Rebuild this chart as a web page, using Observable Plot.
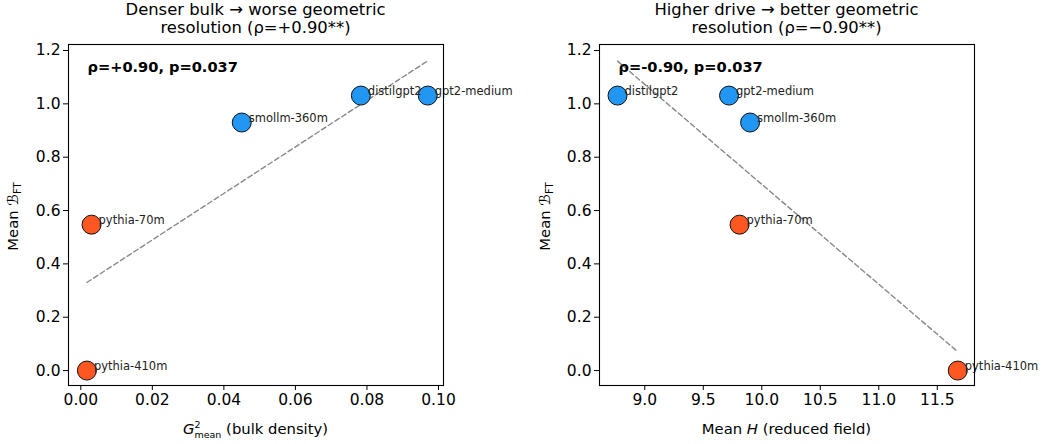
<!DOCTYPE html>
<html>
<head>
<meta charset="utf-8">
<script src="https://cdn.jsdelivr.net/npm/d3@7"></script>
<script src="https://cdn.jsdelivr.net/npm/@observablehq/plot@0.6"></script>
<style>
  html, body { margin: 0; padding: 0; background: #fff; }
  #root { position: relative; width: 1048px; height: 444px; font-family: "DejaVu Sans", sans-serif; overflow: hidden; }
  .title { position: absolute; top: 1px; text-align: center; font-size: 16.4px; line-height: 18px; color: #000; white-space: nowrap; transform: translateX(-50%); }
  .panel { position: absolute; top: 38px; }
</style>
</head>
<body>
<div id="root"></div>
<script>
// ---- data ----
const models = ["pythia-410m", "pythia-70m", "smollm-360m", "distilgpt2", "gpt2-medium"];
const family = ["pythia", "pythia", "other", "other", "other"];
const bulkDensity = [0.0017, 0.0030, 0.0450, 0.0783, 0.0970];
const reducedField = [11.675, 9.81, 9.90, 8.767, 9.72];
const meanBFT = [0.0, 0.547, 0.930, 1.031, 1.031];
const xTicksLeft = [0, 0.02, 0.04, 0.06, 0.08, 0.10];
const xTicksRight = [9.0, 9.5, 10.0, 10.5, 11.0, 11.5];
const yTicks = [0, 0.2, 0.4, 0.6, 0.8, 1.0, 1.2];
const titles = [["Denser bulk \u2192 worse geometric", "resolution (\u03c1=+0.90**)"],
                ["Higher drive \u2192 better geometric", "resolution (\u03c1=\u22120.90**)"]];
const statText = ["\u03c1=+0.90, p=0.037", "\u03c1=-0.90, p=0.037"];

const colorOf = {pythia: "#FF5722", other: "#2196F3"};
const rows = models.map((m, i) => ({model: m, fam: family[i], g2: bulkDensity[i], h: reducedField[i], b: meanBFT[i]}));

const root = document.getElementById("root");
const W = 524, H = 406, MT = 6, MB = 59;
const FONT = "DejaVu Sans, sans-serif";

function makePanel(cfg) {
  const plot = Plot.plot({
    width: W, height: H,
    marginLeft: cfg.ml, marginRight: cfg.mr, marginTop: MT, marginBottom: MB,
    style: {fontFamily: FONT, fontSize: "15.5px", color: "#000", background: "#fff", overflow: "visible"},
    x: {domain: cfg.xdomain, ticks: cfg.xticks, tickFormat: cfg.xfmt, label: null, tickSize: 5, tickPadding: 3},
    y: {domain: [-0.056, 1.2225], ticks: yTicks, tickFormat: d3.format(".1f"), label: null, tickSize: 5, tickPadding: 3},
    marks: [
      Plot.linearRegressionY(rows, {x: cfg.xkey, y: "b", ci: 0, stroke: "#888", strokeWidth: 1.4, strokeDasharray: "5,3"}),
      Plot.dot(rows, {x: cfg.xkey, y: "b", r: 9.5, fill: d => colorOf[d.fam], stroke: "#111", strokeWidth: 1}),
      Plot.text(rows, {x: cfg.xkey, y: "b", text: "model", dx: 7, dy: -4, textAnchor: "start", fontSize: 11.5, fill: "#222"}),
      Plot.text([cfg.stat], {frameAnchor: "top-left", dx: 19, dy: 17, text: d => d, fontWeight: "bold", fontSize: 14.6, fill: "#000"}),
      Plot.frame({stroke: "#000", strokeWidth: 1.1})
    ]
  });
  plot.classList.add("panel");
  plot.style.left = cfg.left + "px";
  root.appendChild(plot);

  const svg = d3.select(plot);
  const frameL = cfg.ml, frameR = W - cfg.mr;
  const cx = (frameL + frameR) / 2;
  // x-axis label
  cfg.xlabel(svg.append("text")
    .attr("x", cx).attr("y", 396).attr("text-anchor", "middle")
    .attr("font-family", FONT).attr("font-size", 14.8).attr("fill", "#000"));
  // y-axis label
  const yl = svg.append("text")
    .attr("transform", `translate(${cfg.ylx},${(MT + H - MB) / 2 + 2}) rotate(-90)`)
    .attr("text-anchor", "middle").attr("font-family", FONT).attr("font-size", 14.8).attr("fill", "#000");
  yl.append("tspan").text("Mean ");
  yl.append("tspan").attr("font-style", "italic").text("\u212C");
  yl.append("tspan").attr("font-size", 10).attr("dy", 3).text("FT");

  // title (HTML above the svg)
  const t = document.createElement("div");
  t.className = "title";
  t.style.left = (cfg.left + cx) + "px";
  t.innerHTML = cfg.title.join("<br>");
  root.appendChild(t);
}

makePanel({
  left: 0, ml: 68, mr: 81, xkey: "g2",
  xdomain: [-0.00344, 0.1014], xticks: xTicksLeft, xfmt: d3.format(".2f"),
  stat: statText[0], title: titles[0], ylx: 18,
  xlabel: (el) => {
    el.append("tspan").attr("font-style", "italic").text("G");
    el.append("tspan").attr("font-size", 9.5).attr("dy", -6).text("2");
    el.append("tspan").attr("font-size", 9.5).attr("dx", -6).attr("dy", 10).text("mean");
    el.append("tspan").attr("dy", -4).text(" (bulk density)");
  }
});

makePanel({
  left: 524, ml: 75, mr: 74, xkey: "h",
  xdomain: [8.613, 11.818], xticks: xTicksRight, xfmt: d3.format(".1f"),
  stat: statText[1], title: titles[1], ylx: 26,
  xlabel: (el) => {
    el.append("tspan").text("Mean ");
    el.append("tspan").attr("font-style", "italic").text("H");
    el.append("tspan").text(" (reduced field)");
  }
});
</script>
</body>
</html>
